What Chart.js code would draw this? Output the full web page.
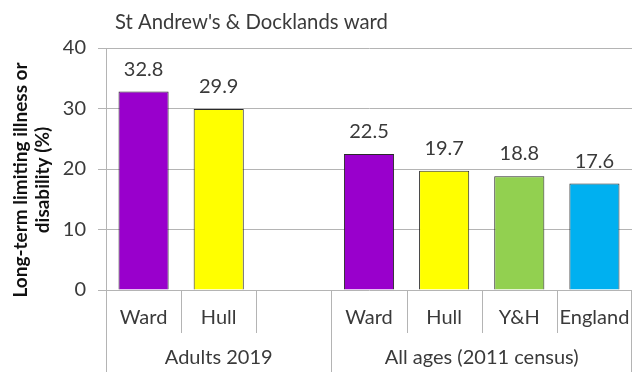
<!DOCTYPE html>
<html><head><meta charset="utf-8">
<script src="https://cdn.jsdelivr.net/npm/chart.js@4"></script>
<style>html,body{margin:0;padding:0;background:#fff;}#wrap{width:632px;height:372px;}</style>
</head><body><div id="wrap"><canvas id="c" width="632" height="372"></canvas></div>
<script>
const chartTitle = "St Andrew's & Docklands ward";
const categories = ["Ward", "Hull", "", "Ward", "Hull", "Y&H", "England"];
const values = [32.8, 29.9, null, 22.5, 19.7, 18.8, 17.6];
const barColors = ["#9900CC", "#FFFF00", "#FFFFFF", "#9900CC", "#FFFF00", "#92D050", "#00B0F0"];
const groups = [{label: "Adults 2019", start: 0, end: 2}, {label: "All ages (2011 census)", start: 3, end: 6}];
const yTicks = [0, 10, 20, 30, 40];
const yTitle = ["Long-term limiting illness or", "disability (%)"];

const FONT = "Lato, 'Open Sans', sans-serif";
const FS = 20;
const TXT = "#3a3a3a";
const GRID = "#b4b4b4";

const overlay = {
  id: 'overlay',
  afterDraw(chart) {
    const ctx = chart.ctx;
    const x = chart.scales.x, y = chart.scales.y;
    const n = categories.length;
    const step = (x.getPixelForValue(n - 1) - x.getPixelForValue(0)) / (n - 1);
    const bound = i => x.getPixelForValue(i) - step / 2;
    const y0 = y.getPixelForValue(0);
    ctx.save();
    ctx.strokeStyle = GRID; ctx.lineWidth = 1;
    for (let i = 1; i < n; i++) {
      const isGroupEdge = groups.some(g => g.start === i);
      const bx = Math.round(bound(i)) + 0.5;
      ctx.beginPath(); ctx.moveTo(bx, y0); ctx.lineTo(bx, isGroupEdge ? chart.height : y0 + 43); ctx.stroke();
    }
    const lx = Math.round(bound(0)) + 0.5;
    ctx.beginPath(); ctx.moveTo(lx, y0); ctx.lineTo(lx, chart.height); ctx.stroke();
    const rx = Math.round(bound(n)) - 0.5;
    ctx.beginPath(); ctx.moveTo(rx, y0); ctx.lineTo(rx, chart.height); ctx.stroke();
    ctx.fillStyle = TXT; ctx.font = FS + "px " + FONT; ctx.textAlign = 'center'; ctx.textBaseline = 'middle';
    groups.forEach(g => {
      const cx = (bound(g.start) + bound(g.end + 1)) / 2;
      ctx.fillText(g.label, cx, 358);
    });
    const meta = chart.getDatasetMeta(0);
    ctx.textBaseline = 'alphabetic';
    meta.data.forEach((bar, i) => {
      if (values[i] == null) return;
      ctx.fillText(values[i].toFixed(1), bar.x, bar.y - 16);
    });
    ctx.textAlign = 'left'; ctx.textBaseline = 'middle';
    ctx.font = "20.3px " + FONT;
    ctx.fillText(chartTitle, 115, 22);
    // y-axis title
    ctx.save();
    ctx.translate(0, 180);
    ctx.rotate(-Math.PI / 2);
    ctx.fillStyle = "#111111";
    ctx.font = "bold 19px " + FONT;
    ctx.textAlign = 'center'; ctx.textBaseline = 'middle';
    ctx.fillText(yTitle[0], 0, 21);
    ctx.fillText(yTitle[1], 0, 43);
    ctx.restore();
    ctx.restore();
  }
};

new Chart(document.getElementById('c'), {
  type: 'bar',
  data: {
    labels: categories,
    datasets: [{
      data: values,
      backgroundColor: barColors,
      borderColor: "#2a2a2a",
      borderWidth: 1,
      categoryPercentage: 1.0,
      barPercentage: 0.667
    }]
  },
  options: {
    responsive: false,
    animation: false,
    devicePixelRatio: 1,
    layout: {padding: {top: 48, right: 0, left: 0, bottom: 0}},
    plugins: {legend: {display: false}, tooltip: {enabled: false}, title: {display: false}},
    scales: {
      x: {
        grid: {display: false, drawTicks: false},
        border: {display: false},
        ticks: {color: TXT, font: {family: FONT, size: FS}, padding: 16, maxRotation: 0, autoSkip: false},
        afterFit(s) { s.height = 82; s.paddingLeft = 0; s.paddingRight = 0; }
      },
      y: {
        min: 0, max: 40,
        afterBuildTicks(s) { s.ticks = yTicks.map(v => ({value: v})); },
        grid: {color: GRID, lineWidth: 1, drawTicks: true, tickLength: 8, tickColor: GRID},
        border: {display: true, color: GRID, width: 1},
        ticks: {color: TXT, font: {family: FONT, size: FS}, padding: 12},
        afterFit(s) { s.width = 106; }
      }
    }
  },
  plugins: [overlay]
});
</script>
</body></html>
